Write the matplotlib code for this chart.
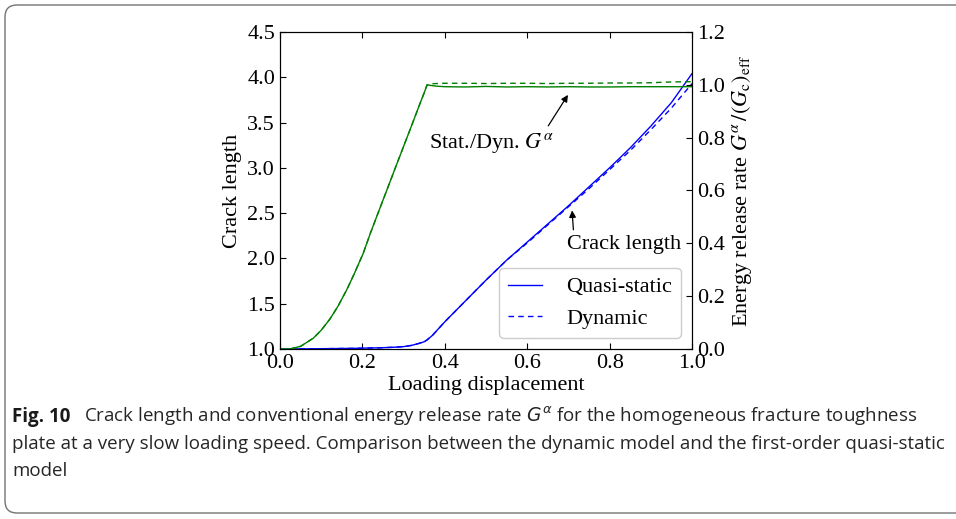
import matplotlib
matplotlib.use("Agg")
import matplotlib.pyplot as plt
from matplotlib import font_manager
from matplotlib.patches import FancyBboxPatch

# data
disp = [0.0, 0.024, 0.05, 0.081, 0.10, 0.121, 0.14, 0.162, 0.18, 0.202, 0.22, 0.243,
        0.26, 0.28, 0.30, 0.32, 0.34, 0.35, 0.357, 0.37, 0.38, 0.40, 0.45, 0.50,
        0.55, 0.60, 0.65, 0.70, 0.75, 0.80, 0.85, 0.90, 0.95, 1.0]

crack_static = [1.0, 1.0, 1.001, 1.002, 1.003, 1.004, 1.005, 1.006, 1.007, 1.009, 1.011, 1.013,
                1.016, 1.02, 1.026, 1.04, 1.065, 1.08, 1.10, 1.15, 1.20, 1.30, 1.53, 1.76,
                1.98, 2.18, 2.38, 2.58, 2.79, 3.0, 3.22, 3.46, 3.72, 4.04]
crack_dynamic = [1.0, 1.0, 1.001, 1.002, 1.003, 1.004, 1.005, 1.006, 1.007, 1.009, 1.011, 1.013,
                 1.016, 1.02, 1.026, 1.04, 1.065, 1.08, 1.10, 1.15, 1.20, 1.30, 1.53, 1.76,
                 1.98, 2.17, 2.37, 2.57, 2.77, 2.98, 3.19, 3.42, 3.66, 3.93]

G_static = [0.0, 0.0, 0.01, 0.041, 0.071, 0.113, 0.16, 0.224, 0.284, 0.362, 0.441, 0.535,
            0.604, 0.686, 0.767, 0.848, 0.93, 0.97, 1.0, 0.997, 0.995, 0.993, 0.992, 0.994,
            0.992, 0.993, 0.992, 0.993, 0.992, 0.992, 0.993, 0.993, 0.993, 0.993]
G_dynamic = [0.0, 0.0, 0.01, 0.041, 0.071, 0.113, 0.16, 0.224, 0.284, 0.362, 0.441, 0.535,
             0.604, 0.686, 0.767, 0.848, 0.93, 0.97, 1.0, 1.004, 1.005, 1.006, 1.006, 1.005,
             1.006, 1.006, 1.005, 1.006, 1.006, 1.007, 1.007, 1.008, 1.011, 1.012]

caption_bold = "Fig. 10"
caption_lines = [
    "Crack length and conventional energy release rate $G^{\\alpha}$ for the homogeneous fracture toughness",
    "plate at a very slow loading speed. Comparison between the dynamic model and the first-order quasi-static",
    "model",
]

plt.rcParams['font.family'] = 'Liberation Serif'
plt.rcParams['mathtext.fontset'] = 'stix'
plt.rcParams['font.size'] = 16

names = {f.name for f in font_manager.fontManager.ttflist}
cap_font = 'Liberation Sans Narrow' if 'Liberation Sans Narrow' in names else 'Open Sans'

fig = plt.figure(figsize=(9.56, 5.19), dpi=100)
ax = fig.add_axes([0.2929, 0.3276, 0.4309, 0.6107])
ax2 = ax.twinx()

ax.plot(disp, crack_static, color='b', lw=1.0, label='Quasi-static')
ax.plot(disp, crack_dynamic, color='b', lw=1.0, ls=(0, (4, 3)), label='Dynamic')
ax2.plot(disp, G_static, color='g', lw=1.0)
ax2.plot(disp, G_dynamic, color='g', lw=1.0, ls=(0, (4, 3)))

ax.set_xlim(0, 1)
ax.set_ylim(1.0, 4.5)
ax2.set_ylim(0, 1.2)
ax.set_xticks([0, 0.2, 0.4, 0.6, 0.8, 1.0])
ax.set_yticks([1.0, 1.5, 2.0, 2.5, 3.0, 3.5, 4.0, 4.5])
ax2.set_yticks([0, 0.2, 0.4, 0.6, 0.8, 1.0, 1.2])
ax.xaxis.set_major_formatter(matplotlib.ticker.FormatStrFormatter('%.1f'))
ax.yaxis.set_major_formatter(matplotlib.ticker.FormatStrFormatter('%.1f'))
ax2.yaxis.set_major_formatter(matplotlib.ticker.FormatStrFormatter('%.1f'))

ax.tick_params(direction='in', top=True, length=4, labelsize=16)
ax2.tick_params(direction='in', length=4, labelsize=16)

ax.set_xlabel("Loading displacement", fontsize=16, labelpad=2)
ax.set_ylabel("Crack length", fontsize=16, labelpad=4)
ax2.set_ylabel("Energy release rate $G^{\\alpha}\\,/(G_{\\mathrm{c}})_{\\mathrm{eff}}$", fontsize=16, labelpad=4)

leg = ax.legend(loc='lower right', fontsize=16, handlelength=1.5, handletextpad=1.1,
                framealpha=1.0, edgecolor='0.8')

ax2.annotate("Stat./Dyn. $G^{\\alpha}$", xy=(0.699, 0.962), xytext=(0.513, 0.78),
             ha='center', va='center', fontsize=16,
             arrowprops=dict(arrowstyle='-|>', color='k', lw=0.9, mutation_scale=10,
                             relpos=(0.93, 1.0), shrinkA=2, shrinkB=0))
ax.annotate("Crack length", xy=(0.709, 2.53), xytext=(0.835, 2.15),
            ha='center', va='center', fontsize=16,
            arrowprops=dict(arrowstyle='-|>', color='k', lw=0.9, mutation_scale=10,
                            relpos=(0.06, 1.0), shrinkA=2, shrinkB=0))

# caption frame
frame = FancyBboxPatch((0.05, 0.06), 10.0, 5.08, boxstyle="round,pad=0,rounding_size=0.12",
                       transform=fig.dpi_scale_trans, fc='none', ec='0.45', lw=1.0)
fig.patches.append(frame)

cap_size = 13.5
line_y = [1 - 422 / 519, 1 - 449 / 519, 1 - 476 / 519]
t_bold = fig.text(12 / 956, line_y[0], caption_bold, fontsize=cap_size, fontweight='bold',
                  family=cap_font, va='baseline', color='0.1')
fig.canvas.draw()
bb = t_bold.get_window_extent(fig.canvas.get_renderer())
fig.text(bb.x1 / 956 + 14 / 956, line_y[0], caption_lines[0], fontsize=cap_size,
         family=cap_font, va='baseline', color='0.15', math_fontfamily='dejavusans')
fig.text(12 / 956, line_y[1], caption_lines[1], fontsize=cap_size,
         family=cap_font, va='baseline', color='0.15')
fig.text(12 / 956, line_y[2], caption_lines[2], fontsize=cap_size,
         family=cap_font, va='baseline', color='0.15')

fig.savefig("out.png", dpi=100)
